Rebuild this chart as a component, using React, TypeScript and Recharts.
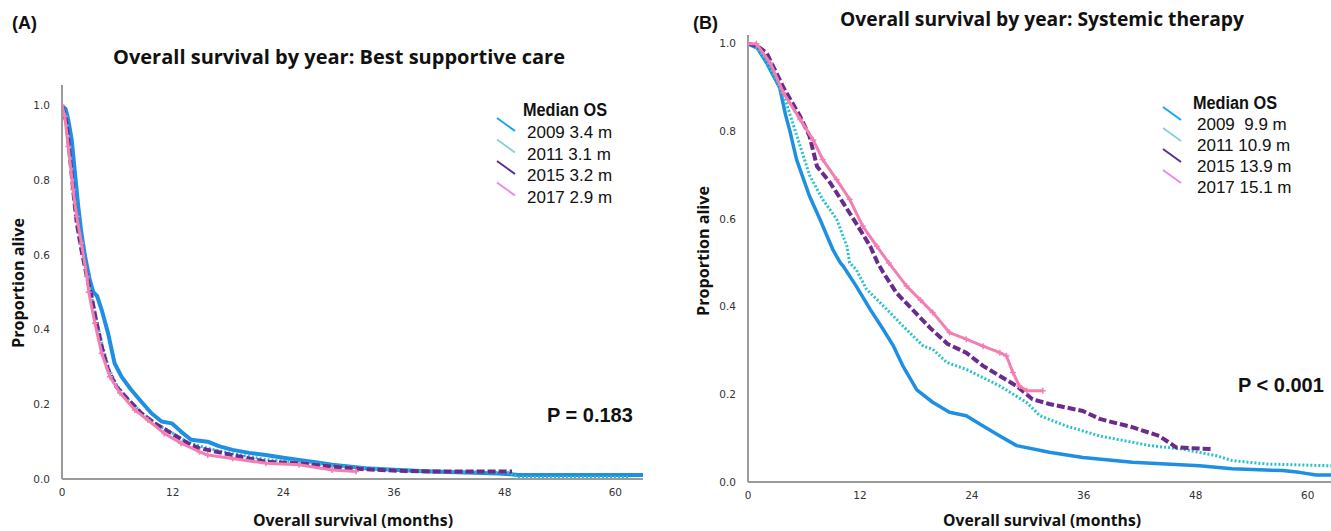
import React from 'react';
import { LineChart, Line, XAxis, YAxis } from 'recharts';

// ---------- data ----------
const MONTH_TICKS = [0, 12, 24, 36, 48, 60];
const SURV_TICKS = [0, 0.2, 0.4, 0.6, 0.8, 1.0];
const YEARS = ['2009', '2011', '2015', '2017'];
const BSC_MEDIANS = ['3.4', '3.1', '3.2', '2.9'];
const SYS_MEDIANS = ['\u00a09.9', '10.9', '13.9', '15.1'];

// Panel A: Best supportive care  [month, proportion alive]
const bsc2009: [number, number][] = [
  [0, 1], [0.4, 0.99], [0.68, 0.962], [1.05, 0.909], [1.4, 0.82], [1.76, 0.73], [2.1, 0.659], [2.5, 0.596],
  [3.0, 0.534], [3.4, 0.5], [3.8, 0.49], [4.3, 0.453], [5.0, 0.39], [5.7, 0.31], [6.45, 0.274], [7.5, 0.239],
  [8.6, 0.207], [9.7, 0.176], [10.8, 0.154], [11.9, 0.149], [12.9, 0.127], [14.0, 0.105],
  [15.8, 0.1], [17.0, 0.088], [18.5, 0.078], [20.3, 0.07], [22.1, 0.064], [24.0, 0.057],
  [25.7, 0.051], [27.5, 0.045], [29.3, 0.038], [32.9, 0.029], [36.5, 0.024], [40.1, 0.02],
  [47.3, 0.015], [49.5, 0.011], [63, 0.011],
];
const bsc2011: [number, number][] = [
  [0, 1], [0.55, 0.955], [0.9, 0.87], [1.25, 0.78], [1.65, 0.69], [2.15, 0.615], [2.75, 0.545],
  [3.1, 0.5], [3.8, 0.42], [4.35, 0.36], [5.05, 0.297], [5.95, 0.25], [7.2, 0.212], [8.6, 0.178],
  [10.05, 0.15], [11.9, 0.124], [13.65, 0.098], [15.8, 0.082], [18.5, 0.068], [22.1, 0.052],
  [25.7, 0.045], [29.3, 0.036], [32.9, 0.029], [36.5, 0.024], [42.0, 0.02], [48.5, 0.017],
  [49.5, 0.005], [61.5, 0.005],
];
const bsc2015: [number, number][] = [
  [0, 1], [0.5, 0.953], [0.86, 0.864], [1.2, 0.775], [1.6, 0.686], [2.1, 0.614], [2.7, 0.542],
  [3.2, 0.489], [3.75, 0.417], [4.3, 0.355], [5.0, 0.292], [5.9, 0.247], [7.2, 0.212], [8.6, 0.176],
  [10.05, 0.149], [11.9, 0.122], [13.65, 0.096], [14.9, 0.082], [15.8, 0.078], [18.5, 0.064],
  [22.1, 0.046], [25.7, 0.042], [29.3, 0.033], [32.9, 0.026], [36.5, 0.022], [40.1, 0.02],
  [48.8, 0.02],
];
const bsc2017: [number, number][] = [
  [0, 1], [0.3, 0.971], [0.68, 0.89], [1.2, 0.775], [1.6, 0.703], [2.1, 0.632], [2.7, 0.542],
  [2.9, 0.5], [3.57, 0.417], [4.3, 0.337], [5.2, 0.274], [6.3, 0.23], [7.9, 0.185], [9.3, 0.158],
  [11.1, 0.122], [12.9, 0.096], [14.9, 0.073], [15.8, 0.064], [18.5, 0.055], [22.1, 0.042],
  [25.7, 0.038], [29.3, 0.024], [31.9, 0.02],
];

// Panel B: Systemic therapy  [month, proportion alive]
const sys2009: [number, number][] = [
  [0, 1], [1, 0.99], [2, 0.956], [3.4, 0.9], [4, 0.84], [4.5, 0.8], [5.2, 0.736], [6.6, 0.652],
  [7.7, 0.6], [9.1, 0.53], [9.9, 0.5], [10.2, 0.493], [11.6, 0.447], [13.1, 0.394], [14.5, 0.348],
  [15.6, 0.31], [16.6, 0.265], [18.1, 0.21], [19.8, 0.182], [21.6, 0.159], [23.4, 0.151],
  [25.2, 0.128], [27.0, 0.105], [28.8, 0.083], [32.3, 0.068], [35.9, 0.056], [41.2, 0.045],
  [48.4, 0.037], [51.9, 0.03], [57.3, 0.026], [59.1, 0.022], [60.9, 0.016], [62.5, 0.016],
];
const sys2011: [number, number][] = [
  [0, 1], [1, 0.99], [2, 0.96], [3, 0.92], [4.1, 0.865], [5.6, 0.766], [6.6, 0.7], [8.0, 0.645],
  [9.5, 0.6], [10.6, 0.538], [10.9, 0.5], [11.6, 0.485], [12.7, 0.44], [13.8, 0.417], [15.2, 0.387],
  [16.6, 0.356], [18.8, 0.31], [19.8, 0.303], [21.3, 0.273], [23.4, 0.257], [27.0, 0.219],
  [29.9, 0.181], [31.3, 0.151], [34.1, 0.128], [37.7, 0.105], [43.1, 0.083], [46.6, 0.075],
  [50.2, 0.06], [51.9, 0.049], [55.6, 0.041], [62.5, 0.037],
];
const sys2015: [number, number][] = [
  [0, 1], [1, 0.995], [2, 0.979], [3.8, 0.9], [5.6, 0.834], [6.6, 0.789], [7.4, 0.72], [8.8, 0.683],
  [10.2, 0.637], [11.6, 0.59], [13.1, 0.538], [13.9, 0.5], [14.5, 0.478], [15.9, 0.432],
  [18.1, 0.383], [19.6, 0.35], [21.4, 0.315], [23.4, 0.295], [25.2, 0.265], [27.0, 0.242],
  [28.8, 0.219], [30.5, 0.189], [32.3, 0.178], [35.9, 0.162], [37.7, 0.144], [41.2, 0.125],
  [44.1, 0.105], [45.9, 0.079], [49.8, 0.075],
];
const sys2017: [number, number][] = [
  [0, 1], [0.9, 1.0], [2.4, 0.956], [3.8, 0.888], [5.6, 0.827], [7.0, 0.78], [8.0, 0.736],
  [9.5, 0.69], [10.9, 0.645], [12.3, 0.584], [13.8, 0.538], [15.1, 0.5], [17.0, 0.447],
  [18.5, 0.415], [19.8, 0.387], [21.6, 0.341], [23.4, 0.326], [25.2, 0.31], [27.0, 0.295],
  [27.7, 0.288], [28.4, 0.25], [29.1, 0.219], [29.9, 0.208], [31.6, 0.208],
];

const rows = (pairs: [number, number][]) => pairs.map(([t, s]) => ({ t, s }));

// ---------- styles ----------
const C_BLUE = '#1f8fe3';
const C_TEAL = '#27c3c6';
const C_PURPLE = '#6a2b8e';
const C_PINK = '#f37fb2';
const LEGEND_COLORS = ['#1aa6e6', '#8fcfd3', '#5a2d91', '#e98be6'];

const TICK_STYLE = { fontSize: 10.5, fill: '#333', fontFamily: 'DejaVu Sans, sans-serif' };
const AXIS_LINE = { stroke: '#9a9a9a', strokeWidth: 2 };
const TITLE_FONT = '"Open Sans", sans-serif';
const ARIAL = '"Liberation Sans", Arial, sans-serif';

const PlusDot = (props: any) => {
  const { cx, cy, stroke, index } = props;
  if (cx == null || cy == null) return <g key={index} />;
  return (
    <path
      key={index}
      d={`M${cx - 3},${cy}h6M${cx},${cy - 3}v6`}
      stroke={stroke}
      strokeWidth={1.5}
      fill="none"
    />
  );
};

function Panel(props: {
  width: number;
  height: number;
  margin: any;
  yMax: number;
  xMax: number;
  series: [number, number][][];
  widths: number[];
}) {
  const { width, height, margin, yMax, xMax, series, widths } = props;
  const colors = [C_BLUE, C_TEAL, C_PURPLE, C_PINK];
  const dashes = ['0', '2 2', '8 3', '0'];
  return (
    <LineChart width={width} height={height} margin={margin}>
      <XAxis
        type="number"
        dataKey="t"
        domain={[0, xMax]}
        ticks={MONTH_TICKS}
        allowDataOverflow
        axisLine={AXIS_LINE}
        tickLine={false}
        tick={TICK_STYLE}
        tickMargin={4}
        height={30}
      />
      <YAxis
        type="number"
        dataKey="s"
        domain={[0, yMax]}
        ticks={SURV_TICKS}
        allowDataOverflow
        axisLine={AXIS_LINE}
        tickLine={false}
        tick={TICK_STYLE}
        tickFormatter={(v: number) => v.toFixed(1)}
        tickMargin={6}
        width={30}
      />
      {series.map((s, i) => (
        <Line
          key={YEARS[i]}
          data={rows(s)}
          dataKey="s"
          type="linear"
          stroke={colors[i]}
          strokeWidth={widths[i]}
          strokeDasharray={dashes[i]}
          strokeLinejoin="round"
          dot={i === 3 ? PlusDot : false}
          activeDot={false}
          isAnimationActive={false}
        />
      ))}
    </LineChart>
  );
}

function LegendBlock(props: { x: number; headY: number; firstY: number; step: number; medians: string[]; swX: number; swTop: number }) {
  const { x, headY, firstY, step, medians, swX, swTop } = props;
  return (
    <g>
      <text x={x - 4} y={headY} fontFamily={ARIAL} fontWeight="bold" fontSize={18} fill="#111" textLength={84} lengthAdjust="spacingAndGlyphs">
        Median OS
      </text>
      {YEARS.map((yr, i) => (
        <g key={yr}>
          <line
            x1={swX}
            y1={swTop + i * step}
            x2={swX + 18}
            y2={swTop + i * step + 13}
            stroke={LEGEND_COLORS[i]}
            strokeWidth={2}
          />
          <text x={x} y={firstY + i * step} fontFamily={ARIAL} fontSize={17} fill="#111" style={{ whiteSpace: 'pre' }}>
            {`${yr} ${medians[i]} m`}
          </text>
        </g>
      ))}
    </g>
  );
}

export default function App() {
  return (
    <div style={{ position: 'absolute', left: 0, top: 0, width: 1331, height: 531, background: '#fff', overflow: 'hidden' }}>
      <div style={{ position: 'absolute', left: 0, top: 0 }}>
        <Panel
          width={665}
          height={531}
          margin={{ top: 85, right: 22, bottom: 22, left: 32 }}
          yMax={1.055}
          xMax={63}
          series={[bsc2009, bsc2011, bsc2015, bsc2017]}
          widths={[4, 3, 4, 3]}
        />
      </div>
      <div style={{ position: 'absolute', left: 665, top: 0 }}>
        <Panel
          width={666}
          height={531}
          margin={{ top: 35, right: 0, bottom: 19, left: 53 }}
          yMax={1.02}
          xMax={62.5}
          series={[sys2009, sys2011, sys2015, sys2017]}
          widths={[3.5, 3, 4, 3]}
        />
      </div>
      <svg width={1331} height={531} style={{ position: 'absolute', left: 0, top: 0, pointerEvents: 'none' }}>
        {/* panel letters */}
        <text x={12} y={29} fontFamily={ARIAL} fontWeight="bold" fontSize={18} fill="#111">(A)</text>
        <text x={693} y={29} fontFamily={ARIAL} fontWeight="bold" fontSize={18} fill="#111">(B)</text>
        {/* titles */}
        <text x={113} y={64} fontFamily={TITLE_FONT} fontWeight={700} fontSize={20} fill="#111" textLength={452} lengthAdjust="spacingAndGlyphs">
          Overall survival by year: Best supportive care
        </text>
        <text x={840} y={26} fontFamily={TITLE_FONT} fontWeight={700} fontSize={20} fill="#111" textLength={404} lengthAdjust="spacingAndGlyphs">
          Overall survival by year: Systemic therapy
        </text>
        {/* x axis labels */}
        <text x={253} y={526} fontFamily={TITLE_FONT} fontWeight={700} fontSize={16} fill="#111" textLength={200} lengthAdjust="spacingAndGlyphs">
          Overall survival (months)
        </text>
        <text x={943} y={526} fontFamily={TITLE_FONT} fontWeight={700} fontSize={16} fill="#111" textLength={198} lengthAdjust="spacingAndGlyphs">
          Overall survival (months)
        </text>
        {/* y axis labels */}
        <text transform="translate(24,348) rotate(-90)" fontFamily={TITLE_FONT} fontWeight={700} fontSize={16} fill="#111" textLength={130} lengthAdjust="spacingAndGlyphs">
          Proportion alive
        </text>
        <text transform="translate(709,316) rotate(-90)" fontFamily={TITLE_FONT} fontWeight={700} fontSize={16} fill="#111" textLength={130} lengthAdjust="spacingAndGlyphs">
          Proportion alive
        </text>
        {/* legends */}
        <LegendBlock x={527} headY={116} firstY={138} step={21.5} medians={BSC_MEDIANS} swX={497} swTop={118} />
        <LegendBlock x={1197} headY={109} firstY={130} step={21} medians={SYS_MEDIANS} swX={1163} swTop={107} />
        {/* p values */}
        <text x={547} y={422} fontFamily={ARIAL} fontWeight="bold" fontSize={20} fill="#111">P = 0.183</text>
        <text x={1238} y={392} fontFamily={ARIAL} fontWeight="bold" fontSize={20} fill="#111">P &lt; 0.001</text>
      </svg>
    </div>
  );
}
